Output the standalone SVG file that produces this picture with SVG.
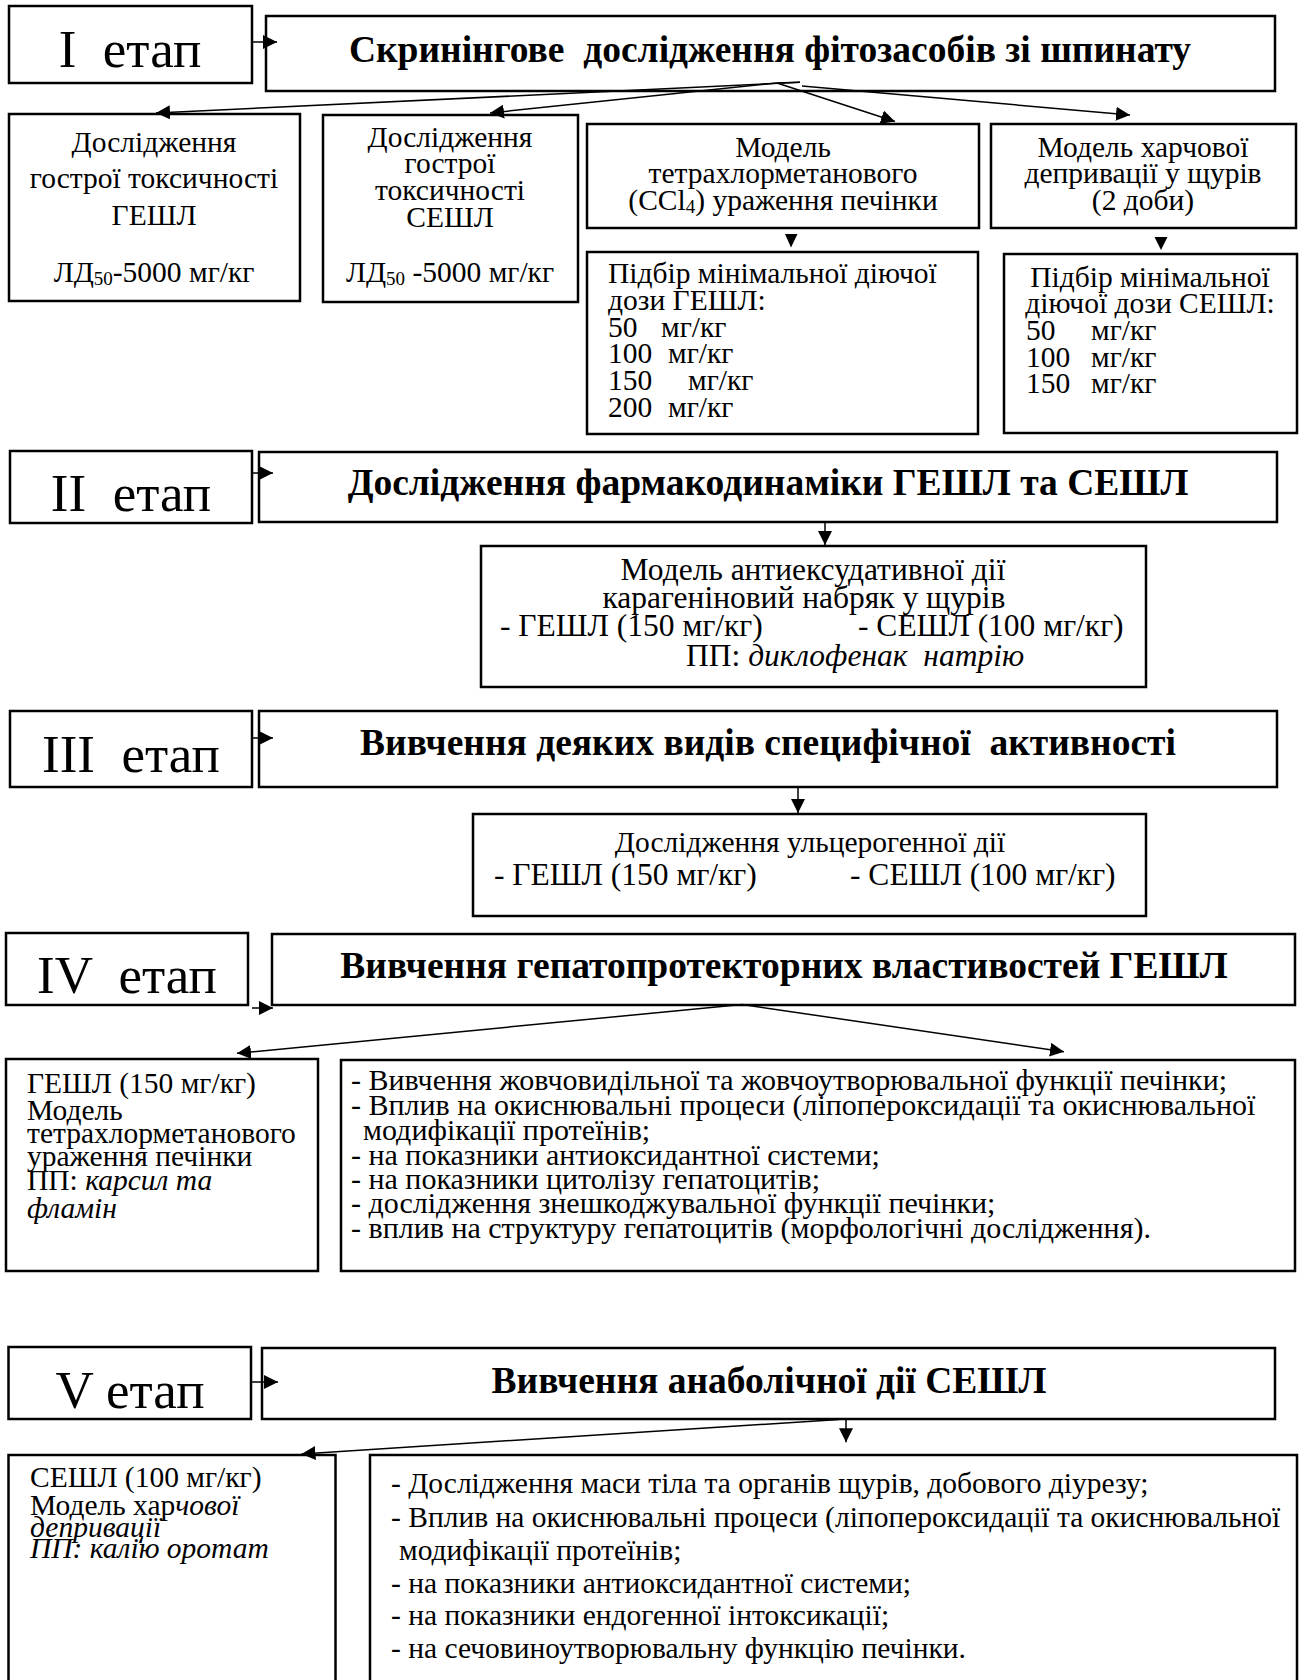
<svg xmlns="http://www.w3.org/2000/svg" width="1305" height="1680" viewBox="0 0 1305 1680">
<style>
.box{fill:#fff;stroke:#000;stroke-width:2.5}
.st{font-family:"Liberation Serif","Times New Roman",serif;font-size:53px;text-anchor:middle;fill:#000}
.ttl{font-family:"Liberation Serif","Times New Roman",serif;font-size:37.5px;font-weight:bold;text-anchor:middle;fill:#000}
.tx{font-family:"Liberation Serif","Times New Roman",serif;font-size:29.5px;fill:#000}
.big{font-size:31.5px}
.lst{font-size:30px}
.c{text-anchor:middle}
.it{font-style:italic}
.conn{stroke:#000;stroke-width:1.5;fill:none}
.tri{fill:#000}
</style>
<defs>
<marker id="ah" markerUnits="userSpaceOnUse" markerWidth="15" markerHeight="14" refX="14" refY="7" orient="auto">
<path d="M0,0 L14,7 L0,14 z" fill="#000"/>
</marker>
</defs>
<rect width="1305" height="1680" fill="#fff"/>

<g id="stage1">
<rect class="box" x="9" y="6" width="243" height="77"/>
<text class="st" x="130" y="67" xml:space="preserve">I  етап</text>
</g>
<g id="title1">
<rect class="box" x="266" y="16" width="1009" height="75"/>
<text class="ttl" x="770" y="62" xml:space="preserve">Скринінгове  дослідження фітозасобів зі шпинату</text>
</g>
<g id="box-acute-gesl">
<rect class="box" x="9" y="114" width="291" height="187"/>
<text class="tx c" x="154" y="152">Дослідження</text>
<text class="tx c" x="154" y="188">гострої токсичності</text>
<text class="tx c" x="154" y="225">ГЕШЛ</text>
<text class="tx c" x="154" y="282">ЛД<tspan font-size="19" dy="3">50</tspan><tspan dy="-3">-5000 мг/кг</tspan></text>
</g>
<g id="box-acute-sesl">
<rect class="box" x="323" y="115" width="255" height="187"/>
<text class="tx c" x="450" y="146.7">Дослідження</text>
<text class="tx c" x="450" y="173.3">гострої</text>
<text class="tx c" x="450" y="200">токсичності</text>
<text class="tx c" x="450" y="226.7">СЕШЛ</text>
<text class="tx c" x="450" y="281.7">ЛД<tspan font-size="19" dy="3">50</tspan><tspan dy="-3"> -5000 мг/кг</tspan></text>
</g>
<g id="box-ccl4">
<rect class="box" x="587" y="124" width="392" height="104"/>
<text class="tx c" x="783" y="156.7">Модель</text>
<text class="tx c" x="783" y="183.3">тетрахлорметанового</text>
<text class="tx c" x="783" y="210">(CCl<tspan font-size="19" dy="3">4</tspan><tspan dy="-3">) ураження печінки</tspan></text>
</g>
<g id="box-deprivation">
<rect class="box" x="991" y="124" width="305" height="104"/>
<text class="tx c" x="1143" y="156.7">Модель харчової</text>
<text class="tx c" x="1143" y="183">депривації у щурів</text>
<text class="tx c" x="1143" y="210">(2 доби)</text>
</g>
<g id="box-dose-gesl">
<rect class="box" x="587" y="252" width="391" height="182"/>
<text class="tx" x="608" y="283.3">Підбір мінімальної діючої</text>
<text class="tx" x="608" y="310">дози ГЕШЛ:</text>
<text class="tx" y="336.7"><tspan x="608">50</tspan><tspan x="661">мг/кг</tspan></text>
<text class="tx" y="363.3"><tspan x="608">100</tspan><tspan x="668">мг/кг</tspan></text>
<text class="tx" y="390"><tspan x="608">150</tspan><tspan x="688">мг/кг</tspan></text>
<text class="tx" y="416.7"><tspan x="608">200</tspan><tspan x="668">мг/кг</tspan></text>
</g>
<g id="box-dose-sesl">
<rect class="box" x="1004" y="254" width="293" height="179"/>
<text class="tx c" x="1150" y="286.7">Підбір мінімальної</text>
<text class="tx c" x="1150" y="313">діючої дози СЕШЛ:</text>
<text class="tx" y="340"><tspan x="1026">50</tspan><tspan x="1091">мг/кг</tspan></text>
<text class="tx" y="366.7"><tspan x="1026">100</tspan><tspan x="1091">мг/кг</tspan></text>
<text class="tx" y="393.3"><tspan x="1026">150</tspan><tspan x="1091">мг/кг</tspan></text>
</g>

<g id="stage2">
<rect class="box" x="10" y="451" width="242" height="72"/>
<text class="st" x="131" y="511" xml:space="preserve">II  етап</text>
</g>
<g id="title2">
<rect class="box" x="259" y="452" width="1018" height="70"/>
<text class="ttl" x="768" y="495">Дослідження фармакодинаміки ГЕШЛ та СЕШЛ</text>
</g>
<g id="box-antiexudative">
<rect class="box" x="481" y="546" width="665" height="141"/>
<text class="tx big c" x="813" y="580">Модель антиексудативної дії</text>
<text class="tx big c" x="804" y="608">карагеніновий набряк у щурів</text>
<text class="tx big" y="636"><tspan x="500">- ГЕШЛ (150 мг/кг)</tspan><tspan x="858">- СЕШЛ (100 мг/кг)</tspan></text>
<text class="tx big" x="686" y="666" xml:space="preserve">ПП: <tspan class="it">диклофенак  натрію</tspan></text>
</g>

<g id="stage3">
<rect class="box" x="10" y="711" width="242" height="76"/>
<text class="st" x="131" y="772" xml:space="preserve">III  етап</text>
</g>
<g id="title3">
<rect class="box" x="259" y="711" width="1018" height="76"/>
<text class="ttl" x="768" y="755" xml:space="preserve">Вивчення деяких видів специфічної  активності</text>
</g>
<g id="box-ulcer">
<rect class="box" x="473" y="814" width="673" height="102"/>
<text class="tx c" x="810" y="852">Дослідження ульцерогенної дії</text>
<text class="tx big" y="885"><tspan x="494">- ГЕШЛ (150 мг/кг)</tspan><tspan x="850">- СЕШЛ (100 мг/кг)</tspan></text>
</g>

<g id="stage4">
<rect class="box" x="6" y="933" width="242" height="72"/>
<text class="st" x="127" y="993" xml:space="preserve">IV  етап</text>
</g>
<g id="title4">
<rect class="box" x="272" y="934" width="1023" height="71"/>
<text class="ttl" x="784" y="978">Вивчення гепатопротекторних властивостей ГЕШЛ</text>
</g>
<g id="box-hepato-left">
<rect class="box" x="6" y="1059" width="312" height="212"/>
<text class="tx" x="27" y="1093">ГЕШЛ (150 мг/кг)</text>
<text class="tx" x="27" y="1120">Модель</text>
<text class="tx" x="27" y="1143">тетрахлорметанового</text>
<text class="tx" x="27" y="1166">ураження печінки</text>
<text class="tx" x="27" y="1190" xml:space="preserve">ПП: <tspan class="it">карсил та</tspan></text>
<text class="tx it" x="27" y="1218">фламін</text>
</g>
<g id="box-hepato-right">
<rect class="box" x="341" y="1060" width="954" height="211"/>
<text class="tx lst" x="351" y="1089.5">- Вивчення жовчовидільної та жовчоутворювальної функції печінки;</text>
<text class="tx lst" x="351" y="1115">- Вплив на окиснювальні процеси (ліпопероксидації та окиснювальної</text>
<text class="tx lst" x="363" y="1140">модифікації протеїнів;</text>
<text class="tx lst" x="351" y="1165">- на показники антиоксидантної системи;</text>
<text class="tx lst" x="351" y="1188.5">- на показники цитолізу гепатоцитів;</text>
<text class="tx lst" x="351" y="1213">- дослідження знешкоджувальної функції печінки;</text>
<text class="tx lst" x="351" y="1238">- вплив на структуру гепатоцитів (морфологічні дослідження).</text>
</g>

<g id="stage5">
<rect class="box" x="8.5" y="1347" width="242.5" height="72"/>
<text class="st" x="130" y="1408">V етап</text>
</g>
<g id="title5">
<rect class="box" x="262" y="1348" width="1013" height="71"/>
<text class="ttl" x="769" y="1393">Вивчення анаболічної дії СЕШЛ</text>
</g>
<g id="box-anabolic-left">
<rect class="box" x="8.5" y="1455" width="327" height="260"/>
<text class="tx" x="30" y="1487.3">СЕШЛ (100 мг/кг)</text>
<text class="tx" x="30" y="1515">Модель хар<tspan class="it">чової</tspan></text>
<text class="tx it" x="30" y="1537">депривації</text>
<text class="tx it" x="30" y="1558">ПП: калію оротат</text>
</g>
<g id="box-anabolic-right">
<rect class="box" x="370" y="1455" width="927" height="260"/>
<text class="tx" x="391" y="1493">- Дослідження маси тіла та органів щурів, добового діурезу;</text>
<text class="tx" x="391" y="1527">- Вплив на окиснювальні процеси (ліпопероксидації та окиснювальної</text>
<text class="tx" x="399" y="1560">модифікації протеїнів;</text>
<text class="tx" x="391" y="1593">- на показники антиоксидантної системи;</text>
<text class="tx" x="391" y="1625">- на показники ендогенної інтоксикації;</text>
<text class="tx" x="391" y="1658">- на сечовиноутворювальну функцію печінки.</text>
</g>

<g id="connectors">
<line class="conn" x1="252" y1="42" x2="277" y2="42" marker-end="url(#ah)"/>
<line class="conn" x1="252" y1="473" x2="273" y2="473" marker-end="url(#ah)"/>
<line class="conn" x1="252" y1="738" x2="273" y2="738" marker-end="url(#ah)"/>
<line class="conn" x1="252" y1="1008" x2="273" y2="1008" marker-end="url(#ah)"/>
<line class="conn" x1="251" y1="1382" x2="278" y2="1382" marker-end="url(#ah)"/>
<line class="conn" x1="777" y1="83" x2="800" y2="82.3"/>
<line class="conn" x1="800" y1="82.3" x2="156" y2="113" marker-end="url(#ah)"/>
<line class="conn" x1="777" y1="83" x2="490" y2="113" marker-end="url(#ah)"/>
<line class="conn" x1="777" y1="83" x2="895" y2="121.5" marker-end="url(#ah)"/>
<line class="conn" x1="802" y1="86" x2="1130" y2="115" marker-end="url(#ah)"/>
<path class="tri" d="M785,234 L797.5,234 L791,247.5 z"/>
<path class="tri" d="M1154.5,237 L1167.5,237 L1161,250 z"/>
<line class="conn" x1="825" y1="522" x2="825" y2="545" marker-end="url(#ah)"/>
<line class="conn" x1="798" y1="787" x2="798" y2="813" marker-end="url(#ah)"/>
<line class="conn" x1="742" y1="1004.5" x2="237" y2="1053.3" marker-end="url(#ah)"/>
<line class="conn" x1="742" y1="1004.5" x2="1064" y2="1051.7" marker-end="url(#ah)"/>
<line class="conn" x1="839" y1="1419.5" x2="301.5" y2="1454" marker-end="url(#ah)"/>
<line class="conn" x1="846" y1="1419" x2="846" y2="1442.3" marker-end="url(#ah)"/>
</g>
</svg>
